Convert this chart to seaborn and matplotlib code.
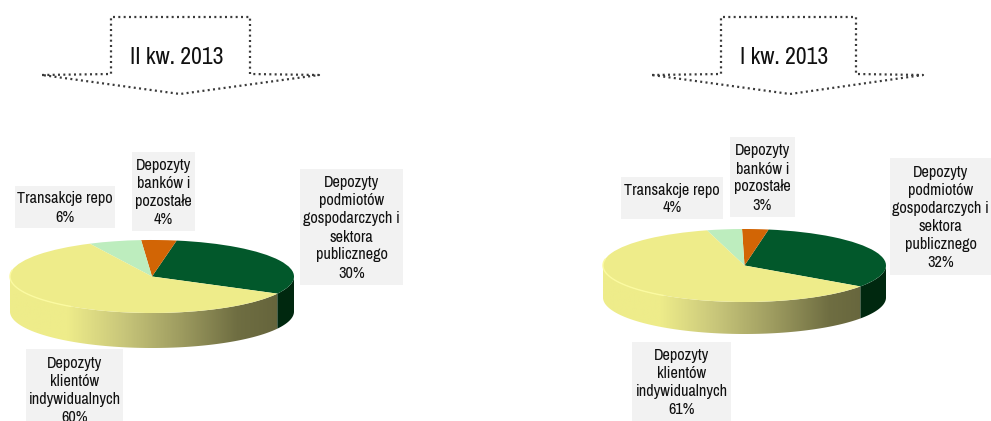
import numpy as np
import matplotlib
matplotlib.use("Agg")
import matplotlib.pyplot as plt
from matplotlib.patches import Polygon, Rectangle
import seaborn as sns
import logging

# shares
categories = ["Depozyty\npodmiotów\ngospodarczych i\nsektora\npublicznego",
              "Depozyty\nbanków i\npozostałe",
              "Transakcje repo",
              "Depozyty\nklientów\nindywidualnych"]
q2_values = [30, 4, 6, 60]
q1_values = [32, 3, 4, 61]
titles = ["II kw. 2013", "I kw. 2013"]
slice_colors = ["#02582B", "#D26505", "#BDEDBE", "#EEEC8A"]
wall_dark = "#00280F"
wall_ramp = ["#EEEC8A", "#EEEC8A", "#C8C67A", "#9E9C60", "#6F6E42", "#62613A"]

W, H = 991, 421

logging.getLogger("matplotlib.font_manager").setLevel(logging.ERROR)
sns.set_theme(style="white")
plt.rcParams["font.family"] = ["Archivo Narrow", "Liberation Sans Narrow", "Roboto Condensed",
                               "Liberation Sans", "DejaVu Sans"]

fig = plt.figure(figsize=(W / 100, H / 100), dpi=100)
bg = fig.add_axes([0, 0, 1, 1])
bg.set_xlim(0, W)
bg.set_ylim(H, 0)
bg.axis("off")


def draw_pie(values, left, right, top, bottom, depth, start):
    ax = fig.add_axes([left / W, 1 - bottom / H, (right - left) / W, (bottom - top) / H])
    ax.patch.set_alpha(0)
    ax.pie(values, colors=slice_colors, startangle=start, radius=1,
           wedgeprops={"linewidth": 0})
    ax.set_aspect("auto")
    ax.axis("off")

    d = depth / ((bottom - top) / 2)

    def wall(a, b):
        t = np.radians(np.linspace(a, b, 200))
        x, y = np.cos(t), np.sin(t)
        return np.r_[np.c_[x, y], np.c_[x, y - d][::-1]]

    # side of the disc: gradient under the yellow slice, dark under the green one
    img = ax.imshow(np.linspace(0, 1, 256)[None, :], extent=(-1, 1, -1 - d, 1),
                    cmap=sns.blend_palette(wall_ramp, as_cmap=True),
                    aspect="auto", zorder=0)
    img.set_clip_path(Polygon(wall(180, 360 + start), transform=ax.transData))
    ax.add_patch(Polygon(wall(360 + start, 360), fc=wall_dark, lw=0, zorder=0, clip_on=False))

    # light rim along the front edge
    t = np.radians(np.linspace(170, 235, 60))
    ax.plot(np.cos(t), np.sin(t), color="#FBFAA0", lw=1, zorder=3, clip_on=False)

    ax.set_xlim(-1, 1)
    ax.set_ylim(-1 - d, 1)
    ax.set_position([left / W, 1 - (bottom + depth) / H, (right - left) / W, (bottom + depth - top) / H])


def draw_arrow(x0, x1, x2, x3, x4, title, tx):
    pts = [(x0, 75), (x1, 74), (x1, 17), (x2, 17), (x2, 74), (x3, 75), (x4, 94), (x0, 75)]
    bg.plot(*zip(*pts), color="#3A3A3A", lw=1.6, ls=(0, (0.9, 1.5)))
    bg.text(tx, 57, title, ha="center", va="center", fontsize=17, color="#111111")


def draw_label(box, text, value):
    x0, y0, x1, y1 = box
    bg.add_patch(Rectangle((x0, y0), x1 - x0, y1 - y0, fc="#F2F2F2", ec="none"))
    bg.text((x0 + x1) / 2, (y0 + y1) / 2 + 1, "{}\n{}%".format(text, value), ha="center", va="center",
            fontsize=11.7, color="#111111", linespacing=1.25, clip_on=False)


draw_arrow(42, 111, 250, 319, 180, titles[0], 177)
draw_arrow(652, 721, 856, 923, 790, titles[1], 784)

draw_pie(q2_values, 10, 294, 240, 313, 35, -28)
draw_pie(q1_values, 603, 886, 229, 302, 32, -35)

boxes_q2 = [(300, 169, 403, 285), (132, 152, 195, 231), (15, 186, 115, 228), (26, 349, 123, 430)]
boxes_q1 = [(890, 158, 991, 275), (730, 137, 795, 217), (621, 177, 723, 219), (632, 342, 731, 421)]
for box, text, value in zip(boxes_q2, categories, q2_values):
    draw_label(box, text, value)
for box, text, value in zip(boxes_q1, categories, q1_values):
    draw_label(box, text, value)

fig.savefig("out.png", dpi=100)
